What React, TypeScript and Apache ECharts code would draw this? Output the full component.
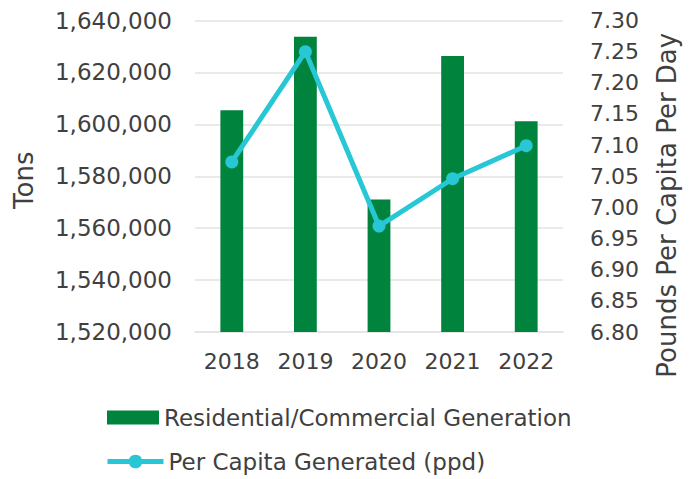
import React, { useEffect, useRef } from "react";
import * as echarts from "echarts";

const years = ["2018", "2019", "2020", "2021", "2022"];
const tons = [1605400, 1633700, 1571000, 1626300, 1601200];
const ppd = [7.073, 7.25, 6.97, 7.046, 7.099];

const FONT = "DejaVu Sans";
const TXT = "#404040";
const BAR_NAME = "Residential/Commercial Generation";
const LINE_NAME = "Per Capita Generated (ppd)";

export default function App() {
  const ref = useRef<HTMLDivElement>(null);
  useEffect(() => {
    if (!ref.current) return;
    const chart = echarts.init(ref.current, undefined, { renderer: "svg" });
    chart.setOption({
      animation: false,
      textStyle: { fontFamily: FONT },
      grid: { left: 195, right: 133, top: 20.5, bottom: 147, containLabel: false },
      legend: [
        {
          left: 107,
          top: 406,
          padding: 0,
          itemWidth: 52,
          itemHeight: 14,
          textStyle: { fontSize: 23, color: TXT, fontFamily: FONT },
          data: [{ name: BAR_NAME, icon: "rect" }],
        },
        {
          left: 105,
          top: 450,
          padding: 0,
          height: 26,
          itemWidth: 56,
          itemHeight: 17,
          lineStyle: { width: 5 },
          textStyle: { fontSize: 23, color: TXT, fontFamily: FONT },
          data: [{ name: LINE_NAME }],
        },
      ],
      xAxis: {
        type: "category",
        data: years,
        axisLine: { show: true, lineStyle: { color: "#e3e3e3", width: 1.5 } },
        axisTick: { show: false },
        axisLabel: { fontSize: 22, color: TXT, margin: 18, fontFamily: FONT },
      },
      yAxis: [
        {
          type: "value",
          min: 1520000,
          max: 1640000,
          interval: 20000,
          name: "Tons",
          nameLocation: "middle",
          nameGap: 158,
          nameTextStyle: { fontSize: 26, color: TXT, fontFamily: FONT, padding: [0, 8, 0, 0] },
          axisLine: { show: false },
          axisTick: { show: false },
          splitLine: { lineStyle: { color: "#e3e3e3", width: 1.5 } },
          axisLabel: {
            fontSize: 23,
            color: TXT,
            margin: 23,
            fontFamily: FONT,
            formatter: (v: number) => v.toLocaleString("en-US"),
          },
        },
        {
          type: "value",
          min: 6.8,
          max: 7.3,
          interval: 0.05,
          name: "Pounds Per Capita Per Day",
          nameLocation: "middle",
          nameGap: 91,
          nameTextStyle: { fontSize: 26, color: TXT, fontFamily: FONT, padding: [0, 58, 0, 0] },
          axisLine: { show: false },
          axisTick: { show: false },
          splitLine: { show: false },
          axisLabel: {
            fontSize: 22,
            color: TXT,
            margin: 27,
            fontFamily: FONT,
            formatter: (v: number) => v.toFixed(2),
          },
        },
      ],
      series: [
        {
          name: BAR_NAME,
          type: "bar",
          data: tons,
          barWidth: "31%",
          itemStyle: { color: "#00843D" },
          yAxisIndex: 0,
        },
        {
          name: LINE_NAME,
          type: "line",
          data: ppd,
          yAxisIndex: 1,
          symbol: "circle",
          symbolSize: 13,
          lineStyle: { color: "#27C7D5", width: 5 },
          itemStyle: { color: "#27C7D5" },
        },
      ],
    });
    return () => chart.dispose();
  }, []);
  return (
    <div
      ref={ref}
      style={{ position: "absolute", left: 0, top: 0, width: 696, height: 479 }}
    />
  );
}
